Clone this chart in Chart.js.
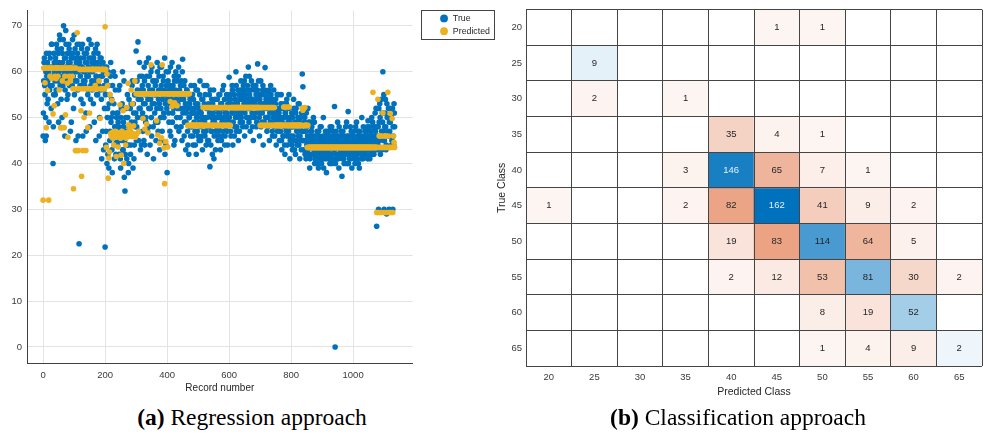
<!DOCTYPE html>
<html>
<head>
<meta charset="utf-8">
<script src="https://cdn.jsdelivr.net/npm/chart.js@4.4.1/dist/chart.umd.min.js"></script>
<style>
  html, body { margin: 0; padding: 0; background: #fff; }
  body { width: 987px; height: 434px; position: relative; overflow: hidden; }
  #regBox { position: absolute; left: 0; top: 0; width: 500px; height: 400px; }
  #confBox { position: absolute; left: 496px; top: 0; width: 491px; height: 400px; }
  .caption {
    position: absolute; top: 404px; line-height: 27px;
    font-family: "Liberation Serif", "Times New Roman", serif; font-size: 23.5px;
    color: #000; white-space: nowrap; transform: translateX(-50%);
  }
</style>
</head>
<body>
<div id="regBox"><canvas id="regressionChart"></canvas></div>
<div id="confBox"><canvas id="confusionChart"></canvas></div>
<div class="caption" style="left:252px"><b>(a)</b> Regression approach</div>
<div class="caption" style="left:738px"><b>(b)</b> Classification approach</div>

<script>
// (a) regression: values every `recordStep` records
const recordStep = 2;

// true value, records 0, 2, 4, ...
const trueEvenRecords = [
  46, 58, 63, 55, 50, 46, 59, 62, 54, 60, 64, 57, 61, 52, 66, 59, 40, 55, 62, 58,
  63, 56, 60, 65, 58, 49, 62, 67, 59, 54, 61, 64, 57, 70, 60, 46, 63, 66, 58, 61,
  55, 62, 65, 59, 47, 63, 60, 57, 64, 52, 68, 61, 58, 45, 63, 66, 56, 60, 22.5, 62,
  59, 54, 65, 61, 46, 58, 63, 57, 60, 51, 64, 62, 55, 59, 67, 48, 61, 57, 63, 56,
  60, 53, 64, 58, 62, 45, 59, 66, 55, 61, 57, 50, 63, 59, 54, 62, 47, 60, 56, 52,
  21.8, 44, 58, 40, 52, 60, 39, 55, 47, 62, 50, 43, 57, 46, 53, 41, 59, 48, 45, 51,
  44, 49, 56, 42, 47, 39, 52, 45, 60, 43, 48, 37, 34, 50, 46, 41, 55, 44, 40, 48,
  47, 42, 53, 46, 58, 39, 51, 44, 49, 55, 64.5, 48, 56, 66.5, 45, 52, 59, 43, 54, 50,
  57, 47, 53, 61, 44, 55, 50, 59, 42, 54, 63, 48, 56, 52, 60, 46, 53, 58, 41, 55,
  51, 57, 45, 55, 62, 49, 54, 59, 43, 56, 52, 61, 47, 55, 58, 50, 63, 53, 44, 57,
  38, 55, 60, 49, 53, 57, 46, 54, 62, 51, 56, 44, 58, 53, 60, 48, 55, 52, 59, 47,
  56, 50, 54, 58, 45, 62.7, 52, 57, 49, 55, 43, 51, 56, 47, 53, 42, 50, 54, 46, 52,
  48, 55, 44, 51, 57, 47, 53, 42, 50, 56, 46, 52, 49, 58, 45, 51, 54, 43, 50, 47,
  53, 46, 50, 44, 57, 48, 52, 45, 55, 39.3, 51, 47, 54, 42, 49, 56, 46, 50, 43, 52,
  48, 54, 45, 51, 47, 55, 43, 50, 53, 46, 52, 57, 49, 44, 51, 48, 55, 47, 53, 50,
  58.8, 49, 54, 46, 52, 57, 44, 51, 55, 48, 53, 60, 47, 52, 56, 45, 50, 54, 49, 58,
  51, 55, 48, 57, 53, 46, 54, 59, 50, 56, 52, 61, 49, 55, 47, 53, 58, 51, 54, 45,
  56, 50, 53, 57, 48, 54, 61.7, 52, 55, 46, 51, 58, 53, 49, 56, 44, 52, 55, 60.9, 50,
  53, 47, 55, 50, 52, 45, 54, 57, 49, 51, 46, 53, 56, 48, 50, 54, 44, 52, 47, 55,
  49, 45, 52, 47, 55, 43, 50, 46, 53, 48, 42, 51, 47, 54, 44, 49, 52, 46, 41, 50,
  46, 51, 43, 48, 54, 45, 49, 42, 52, 47, 44, 50, 46, 53, 41, 48, 45, 51, 59.5, 56.7,
  47, 43, 50, 45, 41, 48, 44, 52, 42, 46, 39, 49, 44, 47, 42, 45, 50, 43, 40, 46,
  44, 41, 47, 43, 39, 46, 42, 48, 44, 40, 45, 43, 50, 41, 46, 42, 44, 38, 47, 43,
  45, 41, 44, 48, 42, 46, 40, 44, 47, 43, 52.4, 0, 42, 45, 41, 49, 44, 39, 46, 42,
  44, 47, 37.2, 43, 46, 41, 45, 42, 48, 44, 40, 46, 51.3, 43, 41, 45, 42, 47, 39, 44,
  46, 42, 45, 40, 48, 43, 44, 41, 47, 45, 39, 43, 46, 42, 50, 44, 41, 45, 43, 47,
  42, 46, 44, 48, 49.3, 43, 45, 41, 47, 44, 50, 46, 42, 45, 48, 43, 47, 52, 26.3, 46,
  44, 30, 49, 53, 42, 29.5, 47, 51, 60, 45, 30, 48, 54, 43, 29, 50, 46, 52, 30, 47,
  49, 29.5, 44, 51, 30, 46, 53, 48
];

// true value, records 1, 3, 5, ...
const trueOddRecords = [
  51, 62, 57, 45, 60, 64, 53, 58, 61, 49, 56, 63, 59, 66, 57, 61, 48, 64, 60, 55,
  59, 66, 62, 53, 64, 60, 68, 57, 61, 65, 50, 62, 67, 59, 63, 56, 69, 61, 54, 64,
  60, 66, 57, 62, 64, 49, 61, 67, 59, 63, 55, 65, 60, 62, 58, 64, 46, 61, 66, 57,
  63, 57, 61, 66, 53, 60, 64, 58, 62, 47, 59, 65, 61, 56, 63, 60, 54, 66, 58, 62,
  57, 63, 49, 61, 65, 59, 55, 62, 64, 58, 46, 61, 56, 63, 41, 59, 62, 43, 57, 61,
  55, 47, 61, 50, 42, 57, 53, 45, 59, 49, 54, 38, 51, 60, 44, 48, 56, 42, 50, 46,
  51, 45, 48, 57, 41, 50, 46, 53, 43, 49, 58, 45, 42, 52, 47, 44, 50, 38, 54, 46,
  52, 44, 49, 57, 46, 53, 41, 55, 48, 51, 45, 58, 50, 54, 47, 62, 52, 56, 44, 59,
  51, 56, 45, 58, 53, 49, 62, 55, 47, 57, 52, 59, 44, 54, 50, 61, 56, 48, 58, 53,
  55, 49, 58, 52, 60, 47, 56, 53, 61, 50, 57, 45, 54, 59, 51, 56, 42, 55, 60, 52,
  54, 58, 51, 56, 47, 61, 53, 55, 49, 57, 52, 59, 45, 56, 54, 50, 58, 53, 61, 55,
  52, 57, 48, 55, 60, 51, 54, 46, 58, 53, 49, 56, 52, 44, 55, 50, 53, 48, 57, 51,
  51, 46, 54, 49, 52, 44, 56, 50, 47, 53, 51, 45, 55, 48, 52, 50, 46, 54, 49, 57,
  49, 55, 47, 52, 50, 45, 53, 48, 51, 56, 44, 50, 47, 53, 51, 41, 49, 54, 47, 50,
  52, 46, 50, 55, 48, 51, 53, 45, 49, 56, 47, 50, 54, 46, 52, 49, 51, 44, 50, 54,
  50, 55, 47, 53, 51, 56, 49, 52, 46, 54, 50, 57, 48, 53, 51, 55, 47, 52, 56, 50,
  54, 49, 56, 52, 58, 51, 55, 48, 53, 57, 50, 54, 59, 52, 56, 50, 54, 48, 57, 53,
  53, 57, 51, 55, 49, 56, 52, 58, 50, 54, 53, 48, 55, 51, 57, 53, 49, 56, 52, 54,
  50, 54, 48, 53, 56, 51, 49, 55, 52, 47, 54, 50, 52, 46, 53, 49, 51, 55, 48, 50,
  51, 47, 50, 53, 45, 49, 52, 46, 50, 44, 51, 48, 53, 46, 50, 47, 55, 49, 45, 48,
  48, 44, 50, 46, 52, 43, 48, 51, 45, 49, 47, 53, 44, 49, 46, 50, 43, 47, 52, 45,
  45, 49, 42, 47, 51, 44, 46, 43, 49, 45, 41, 47, 44, 48, 42, 46, 44, 49, 41, 45,
  42, 46, 44, 40, 47, 43, 45, 41, 48, 44, 42, 46, 39, 45, 43, 47, 41, 44, 46, 42,
  43, 47, 40, 45, 42, 48, 44, 41, 46, 43, 45, 40, 47, 42, 44, 46, 41, 48, 43, 45,
  42, 45, 41, 47, 44, 40, 46, 43, 45, 49, 42, 44, 40, 46, 43, 48, 41, 45, 43, 46,
  43, 47, 41, 45, 44, 49, 42, 46, 40, 44, 47, 43, 45, 41, 46, 44, 48, 42, 45, 43,
  45, 43, 47, 41, 46, 44, 48, 42, 45, 47, 43, 49, 45, 42, 46, 51, 44, 48, 45, 43,
  48, 52, 45, 50, 46, 54, 43, 49, 47, 55, 45, 51, 48, 44, 53, 47, 50, 46, 49, 52,
  46, 50, 45, 52, 48, 44, 51
];

// predicted value, records 0, 2, 4, ...
const predictedValues = [
  32, 60.8, 60.8, 57.6, 60.8, 47.8, 60.8, 55.9, 60.8, 32, 60.8, 59, 60.8, 60.8, 58.5, 60.8, 50.8, 60.8, 52.6, 59,
  60.8, 58.5, 60.8, 60.8, 59, 60.8, 56, 60.8, 47.8, 60.8, 47.8, 58, 60.8, 60.8, 47.8, 59, 50.6, 60.8, 60.8, 57.5,
  45.7, 60.8, 59, 60.8, 58, 60.8, 60.8, 59, 56.3, 34.5, 60.8, 56.3, 42.8, 60.8, 42.8, 68.5, 56.3, 42.8, 56.3, 60.5,
  60.5, 51.5, 37.2, 56.3, 42.8, 60.5, 50, 56.3, 60.5, 42.8, 56.3, 60.5, 47.8, 56.3, 60.5, 51, 56.3, 60.5, 56.3, 60.5,
  56.3, 60.5, 56.3, 60.5, 57, 60.5, 56.3, 60.5, 56.3, 60.5, 58, 60.5, 49.8, 56.3, 60.5, 56.3, 60.5, 56.3, 60.5, 56.3,
  69.8, 60.5, 43.5, 59.5, 57, 36.8, 41.2, 42.5, 55, 46.5, 45.8, 53.7, 46.8, 45.5, 44, 46.2, 47, 45.7, 41.5, 46.5,
  45.8, 43.6, 46.7, 46, 52.8, 45.5, 41.8, 47, 46.3, 51.5, 40, 45.8, 46.6, 44, 45.5, 52.2, 46.8, 57.5, 48.4, 46,
  47.6, 46.5, 56, 45.9, 53, 46.6, 48.2, 46, 58, 45.7, 55.2, 46.4, 55.2, 55.2, 47, 55.2, 55.2, 55.2, 55.2, 55.2,
  55.2, 49.8, 55.2, 55.2, 47.5, 55.2, 55.2, 48.6, 55.2, 46.7, 55.2, 55.2, 55.2, 55.2, 61.5, 55.2, 55.2, 55.2, 55.2, 55.2,
  55.2, 55.2, 55.2, 49.3, 55.2, 46.2, 55.2, 55.2, 44.4, 55.2, 55.2, 45.6, 61.5, 55.2, 55.2, 43.4, 35.6, 55.2, 44.8, 55.2,
  55.2, 43.6, 55.2, 55.2, 55.2, 53.5, 55.2, 55.2, 52.4, 55.2, 55.2, 55.2, 53.2, 55.2, 55.2, 55.2, 52.6, 55.2, 55.2, 55.2,
  55.2, 55.2, 55.2, 55.2, 55.2, 55.2, 55.2, 55.2, 55.2, 55.2, 55.2, 55.2, 55.2, 48.3, 55.2, 48.3, 55.2, 48.3, 48.3, 48.3,
  48.3, 48.3, 48.3, 48.3, 48.3, 48.3, 48.3, 48.3, 48.3, 48.3, 48.3, 48.3, 48.3, 48.3, 48.3, 48.3, 48.3, 48.3, 52.2, 48.3,
  52.2, 48.3, 52.2, 48.3, 52.2, 48.3, 52.2, 48.3, 52.2, 48.3, 52.2, 48.3, 52.2, 48.3, 52.2, 48.3, 52.2, 48.3, 52.2, 48.3,
  52.2, 48.3, 52.2, 48.3, 52.2, 48.3, 52.2, 48.3, 52.2, 48.3, 52.2, 48.3, 52.2, 48.3, 52.2, 48.3, 52.2, 48.3, 52.2, 48.3,
  48.3, 52.2, 48.3, 52.2, 52.2, 52.2, 52.2, 52.2, 52.2, 52.2, 52.2, 52.2, 52.2, 52.2, 52.2, 52.2, 52.2, 52.2, 52.2, 52.2,
  52.2, 52.2, 52.2, 52.2, 52.2, 52.2, 52.2, 52.2, 52.2, 52.2, 52.2, 52.2, 52.2, 52.2, 52.2, 52.2, 52.2, 52.2, 52.2, 52.2,
  52.2, 52.2, 52.2, 52.2, 52.2, 52.2, 52.2, 52.2, 52.2, 52.2, 48.3, 52.2, 48.3, 52.2, 48.3, 52.2, 48.3, 52.2, 48.3, 52.2,
  48.3, 52.2, 48.3, 52.2, 48.3, 52.2, 48.3, 52.2, 48.3, 52.2, 48.3, 52.2, 48.3, 52.2, 48.3, 48.3, 48.3, 48.3, 48.3, 48.3,
  48.3, 48.3, 48.3, 48.3, 48.3, 48.3, 48.3, 48.3, 52.3, 48.3, 52.3, 48.3, 48.3, 48.3, 52.3, 48.3, 48.3, 52.3, 48.3, 48.3,
  48.3, 48.3, 48.3, 48.3, 48.3, 48.3, 48.3, 48.3, 48.3, 48.3, 48.3, 48.3, 48.3, 48.3, 48.3, 48.3, 48.3, 48.3, 52, 51.6,
  52, 48.3, 52.2, 48.3, 48.3, 48.3, 43.5, 48.3, 43.5, 43.5, 43.5, 43.5, 43.5, 43.5, 43.5, 43.5, 43.5, 43.5, 43.5, 43.5,
  43.5, 43.5, 43.5, 43.5, 43.5, 43.5, 43.5, 43.5, 43.5, 43.5, 43.5, 43.5, 43.5, 43.5, 43.5, 43.5, 43.5, 43.5, 43.5, 43.5,
  43.5, 43.5, 43.5, 43.5, 43.5, 43.5, 43.5, 43.5, 43.5, 43.5, 43.5, 43.5, 43.5, 43.5, 43.5, 43.5, 43.5, 43.5, 43.5, 43.5,
  43.5, 43.5, 43.5, 43.5, 43.5, 43.5, 43.5, 43.5, 43.5, 43.5, 43.5, 43.5, 43.5, 43.5, 43.5, 43.5, 43.5, 43.5, 43.5, 43.5,
  43.5, 43.5, 43.5, 43.5, 43.5, 43.5, 43.5, 43.5, 43.5, 43.5, 43.5, 43.5, 43.5, 43.5, 43.5, 43.5, 43.5, 43.5, 43.5, 43.5,
  43.5, 43.5, 43.5, 43.5, 43.5, 43.5, 43.5, 43.5, 43.5, 43.5, 43.5, 43.5, 55.5, 43.5, 43.5, 43.5, 43.5, 43.5, 29.3, 43.5,
  54, 29.3, 46, 43.5, 46, 29.3, 43.5, 46, 51, 43.5, 29.3, 46, 43.5, 46, 29.3, 43.5, 55.5, 46, 29.3, 43.5,
  50.9, 29.3, 43.5, 49.8, 29.3, 46, 44.6, 43.5
];

const xTicksStep = 200;
const yTicksStep = 10;

// (b) classification: rows = true class, columns = predicted class
const predictedClasses = ['20', '25', '30', '35', '40', '45', '50', '55', '60', '65'];
const trueClasses = ['20', '25', '30', '35', '40', '45', '50', '55', '60', '65'];
const confusionCounts = [
  [0, 0, 0, 0,   0,   1,   1,  0,  0, 0],
  [0, 9, 0, 0,   0,   0,   0,  0,  0, 0],
  [0, 2, 0, 1,   0,   0,   0,  0,  0, 0],
  [0, 0, 0, 0,  35,   4,   1,  0,  0, 0],
  [0, 0, 0, 3, 146,  65,   7,  1,  0, 0],
  [1, 0, 0, 2,  82, 162,  41,  9,  2, 0],
  [0, 0, 0, 0,  19,  83, 114, 64,  5, 0],
  [0, 0, 0, 0,   2,  12,  53, 81, 30, 2],
  [0, 0, 0, 0,   0,   0,   8, 19, 52, 0],
  [0, 0, 0, 0,   0,   0,   1,  4,  9, 2]
];

Chart.defaults.font.family = '"Liberation Sans", Arial, Helvetica, sans-serif';
Chart.defaults.color = '#3a3a3a';
Chart.defaults.animation = false;
Chart.defaults.events = [];

const toPoints = (vals, firstRecord) => vals.map((y, i) => ({ x: firstRecord + i * recordStep, y }));

// frame round the legend, like the MATLAB legend box
const legendFrame = {
  id: 'legendFrame',
  afterDraw(chart) {
    const hb = chart.legend && chart.legend.legendHitBoxes;
    if (!hb || !hb.length) return;
    const last = hb[hb.length - 1];
    const ctx = chart.ctx;
    ctx.save();
    ctx.strokeStyle = '#444';
    ctx.lineWidth = 1;
    const left = Math.round(hb[0].left - 19) + 0.5;
    const top = Math.round(hb[0].top - 4) + 0.5;
    const right = Math.round(hb[0].left + 54) + 0.5;
    const bottom = Math.round(last.top + last.height + 3) + 0.5;
    ctx.strokeRect(left, top, right - left, bottom - top);
    ctx.restore();
  }
};

new Chart(document.getElementById('regressionChart'), {
  type: 'scatter',
  data: {
    datasets: [
      {
        label: 'True',
        data: [...toPoints(trueEvenRecords, 0), ...toPoints(trueOddRecords, 1)],
        backgroundColor: '#0072BD',
        pointRadius: 2.8,
        pointBorderWidth: 0,
        pointStyle: 'circle',
        order: 1
      },
      {
        label: 'Predicted',
        data: toPoints(predictedValues, 0),
        backgroundColor: '#EDB120',
        pointRadius: 2.8,
        pointBorderWidth: 0,
        pointStyle: 'circle',
        order: 0
      }
    ]
  },
  options: {
    responsive: true,
    maintainAspectRatio: false,
    layout: { padding: { top: 10, left: 0, right: 0, bottom: 0 } },
    plugins: {
      tooltip: { enabled: false },
      legend: {
        position: 'right',
        align: 'start',
        labels: {
          usePointStyle: true,
          pointStyle: 'circle',
          boxWidth: 9,
          boxHeight: 5.5,
          padding: 4,
          color: '#262626',
          font: { size: 8.8 },
          sort: (a, b) => a.datasetIndex - b.datasetIndex
        }
      }
    },
    scales: {
      x: {
        type: 'linear',
        min: -52,
        max: 1192,
        ticks: { stepSize: xTicksStep, includeBounds: false, padding: 7, font: { size: 9.5 }, callback: v => String(v) },
        grid: { color: '#e3e3e3', drawTicks: false },
        border: { color: '#404040' },
        title: { display: true, text: 'Record number', color: '#262626', font: { size: 10 }, padding: { top: 0, bottom: 6 } },
        afterFit: s => { s.height = 37; }
      },
      y: {
        type: 'linear',
        min: -3.5,
        max: 73.3,
        ticks: { stepSize: yTicksStep, includeBounds: false, padding: 5, font: { size: 9.5 } },
        grid: { color: '#e3e3e3', drawTicks: false },
        border: { color: '#404040' },
        afterFit: s => { s.width = 27; }
      },
      legendGap: {
        type: 'linear',
        position: 'right',
        ticks: { display: false },
        grid: { display: false },
        border: { display: false },
        afterFit: s => { s.width = 23; }
      }
    }
  },
  plugins: [legendFrame]
});

// colour of a cell: white blended toward the diagonal / off-diagonal colour
const maxCount = Math.max(...confusionCounts.flat());
const cellShade = n => 0.05 + 0.95 * n / maxCount;
const cellColor = (n, diagonal) => {
  const base = diagonal ? [0, 114, 189] : [217, 83, 25];
  const t = cellShade(n);
  const mix = base.map(v => Math.round(255 + (v - 255) * t));
  return `rgb(${mix[0]}, ${mix[1]}, ${mix[2]})`;
};

const cellLabels = {
  id: 'cellLabels',
  afterDatasetsDraw(chart) {
    const ctx = chart.ctx;
    ctx.save();
    ctx.font = '9.5px "Liberation Sans", Arial, sans-serif';
    ctx.textAlign = 'center';
    ctx.textBaseline = 'middle';
    chart.data.datasets.forEach((ds, r) => {
      chart.getDatasetMeta(r).data.forEach((bar, c) => {
        const n = confusionCounts[r][c];
        if (!n) return;
        ctx.fillStyle = cellShade(n) > 0.8 ? '#e4f0fa' : '#262626';
        ctx.fillText(String(n), bar.x, (bar.y + bar.base) / 2);
      });
    });
    ctx.restore();
  }
};

new Chart(document.getElementById('confusionChart'), {
  type: 'bar',
  data: {
    labels: predictedClasses,
    datasets: trueClasses.map((label, r) => ({
      label,
      yAxisID: 'y',
      data: confusionCounts[r].map(n => (n ? [r - 0.5, r + 0.5] : null)),
      backgroundColor: confusionCounts[r].map((n, c) => cellColor(n, r === c)),
      borderWidth: 0,
      grouped: false,
      barPercentage: 1,
      categoryPercentage: 1
    }))
  },
  options: {
    responsive: true,
    maintainAspectRatio: false,
    layout: { padding: { top: 7, right: 5, left: 0, bottom: 0 } },
    plugins: { legend: { display: false }, tooltip: { enabled: false } },
    scales: {
      x: {
        type: 'category',
        offset: true,
        grid: { offset: true, color: '#454545', drawTicks: false, z: 1 },
        border: { display: false },
        ticks: { padding: 6, font: { size: 9.5 } },
        title: { display: true, text: 'Predicted Class', color: '#262626', font: { size: 10.5 }, padding: { top: 0, bottom: 2 } },
        afterFit: s => { s.height = 34; }
      },
      y: {
        type: 'linear',
        min: -0.5,
        max: 9.5,
        reverse: true,
        afterBuildTicks: s => { s.ticks = trueClasses.map((_, i) => ({ value: i })); },
        ticks: { callback: v => trueClasses[v], padding: 4, font: { size: 9.5 } },
        grid: { display: false, drawTicks: false },
        border: { display: false },
        title: { display: true, text: 'True Class', color: '#262626', font: { size: 10.5 }, padding: 0 },
        afterFit: s => { s.width = 30; }
      },
      yCells: {
        type: 'linear',
        position: 'left',
        min: -0.5,
        max: 9.5,
        reverse: true,
        afterBuildTicks: s => { s.ticks = [...trueClasses, ''].map((_, i) => ({ value: i - 0.5 })); },
        ticks: { display: false },
        grid: { color: '#454545', drawTicks: false, z: 1 },
        border: { display: false },
        afterFit: s => { s.width = 0; }
      }
    }
  },
  plugins: [cellLabels]
});
</script>
</body>
</html>
